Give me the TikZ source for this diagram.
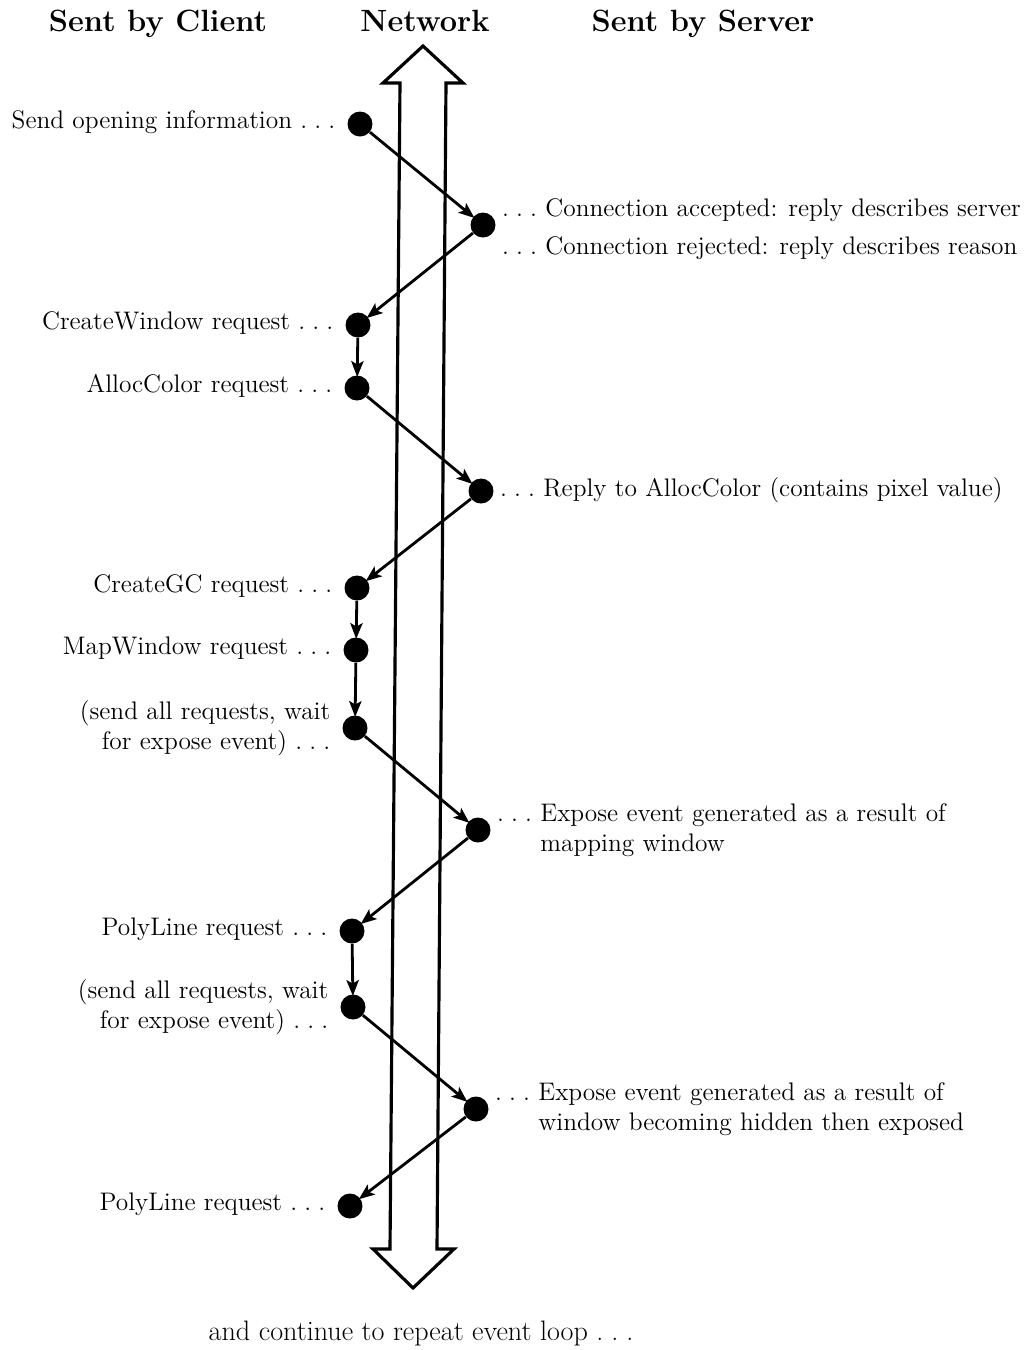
\documentclass[tikz,border=0pt]{standalone}
\usetikzlibrary{arrows.meta}
% spaced ellipsis, as in the printed manual
\newcommand{\dotsep}{\mbox{.\kern.28em.\kern.28em.}}
\begin{document}
\begin{tikzpicture}[x=0.02cm, y=-0.02cm,
  every node/.style={font=\fontsize{14.45}{17}\selectfont, inner sep=0pt},
  header/.style={font=\fontsize{17.5}{20}\selectfont\bfseries, anchor=base},
  event/.style={circle, fill=black, minimum size=0.5cm, inner sep=0pt},
  clientlbl/.style={anchor=base east},
  clientlbltwo/.style={anchor=east, align=right},
  serverlbl/.style={anchor=base west},
  serverlbltwo/.style={anchor=west, align=left},
  conn/.style={-{Stealth[length=9pt, width=7pt, inset=2pt]}, line width=1.6pt, shorten >=-1pt},
  netarrow/.style={line width=1.8pt, line join=miter}
]
\useasboundingbox (0,0) rectangle (1032,1350);

% column headings
\node[header] (hc) at (158,31) {Sent by Client};
\node[header] (hn) at (425,31) {Network};
\node[header] (hs) at (703,31) {Sent by Server};

% the network: a double-headed hollow arrow
\draw[netarrow] (423,46) -- (463,83) -- (446,83) -- (437,1249) -- (454,1249)
  -- (413,1288) -- (373,1249) -- (390,1249) -- (400,83) -- (383,83) -- cycle;

% events
\node[event] (d1)  at (360,124)  {};
\node[event] (d2)  at (483,225)  {};
\node[event] (d3)  at (358,325)  {};
\node[event] (d4)  at (357,388)  {};
\node[event] (d5)  at (481,491)  {};
\node[event] (d6)  at (357,588)  {};
\node[event] (d7)  at (356,650)  {};
\node[event] (d8)  at (355,728)  {};
\node[event] (d9)  at (478,830)  {};
\node[event] (d10) at (352,931)  {};
\node[event] (d11) at (353,1007) {};
\node[event] (d12) at (476,1109) {};
\node[event] (d13) at (350,1206) {};

% client side
\node[clientlbl] (l1) at ([xshift=-0.23cm, yshift=-0.08cm]d1.west) {Send opening information \dotsep};
\node[clientlbl] (l3) at ([xshift=-0.23cm, yshift=-0.08cm]d3.west) {CreateWindow request \dotsep};
\node[clientlbl] (l4) at ([xshift=-0.23cm, yshift=-0.08cm]d4.west) {AllocColor request \dotsep};
\node[clientlbl] (l6) at ([xshift=-0.23cm, yshift=-0.08cm]d6.west) {CreateGC request \dotsep};
\node[clientlbl] (l7) at ([xshift=-0.23cm, yshift=-0.08cm]d7.west) {MapWindow request \dotsep};
\node[clientlbltwo] (l8) at ([xshift=-0.23cm]d8.west) {(send all requests, wait\\for expose event) \dotsep};
\node[clientlbl] (l10) at ([xshift=-0.23cm, yshift=-0.08cm]d10.west) {PolyLine request \dotsep};
\node[clientlbltwo] (l11) at ([xshift=-0.23cm]d11.west) {(send all requests, wait\\for expose event) \dotsep};
\node[clientlbl] (l13) at ([xshift=-0.23cm, yshift=-0.08cm]d13.west) {PolyLine request \dotsep};

% server side
\node[serverlbl] (l2a) at ([xshift=0.12cm, yshift=0.18cm]d2.east) {\dotsep{} Connection accepted: reply describes server};
\node[serverlbl] (l2b) at ([xshift=0.12cm, yshift=-0.58cm]d2.east) {\dotsep{} Connection rejected: reply describes reason};
\node[serverlbl] (l5) at ([xshift=0.12cm, yshift=-0.1cm]d5.east) {\dotsep{} Reply to AllocColor (contains pixel value)};
\node[serverlbltwo] (l9) at ([xshift=0.12cm]d9.east) {\dotsep{} Expose event generated as a result of\\\phantom{\dotsep{} }mapping window};
\node[serverlbltwo] (l12) at ([xshift=0.12cm]d12.east) {\dotsep{} Expose event generated as a result of\\\phantom{\dotsep{} }window becoming hidden then exposed};

% messages
\draw[conn] (d1) -- (d2);
\draw[conn] (d2) -- (d3);
\draw[conn] (d3) -- (d4);
\draw[conn] (d4) -- (d5);
\draw[conn] (d5) -- (d6);
\draw[conn] (d6) -- (d7);
\draw[conn] (d7) -- (d8);
\draw[conn] (d8) -- (d9);
\draw[conn] (d9) -- (d10);
\draw[conn] (d10) -- (d11);
\draw[conn] (d11) -- (d12);
\draw[conn] (d12) -- (d13);

% closing remark
\node[anchor=base, font=\fontsize{16}{18}\selectfont] (tail) at (421,1340) {and continue to repeat event loop \dotsep};
\end{tikzpicture}
\end{document}
